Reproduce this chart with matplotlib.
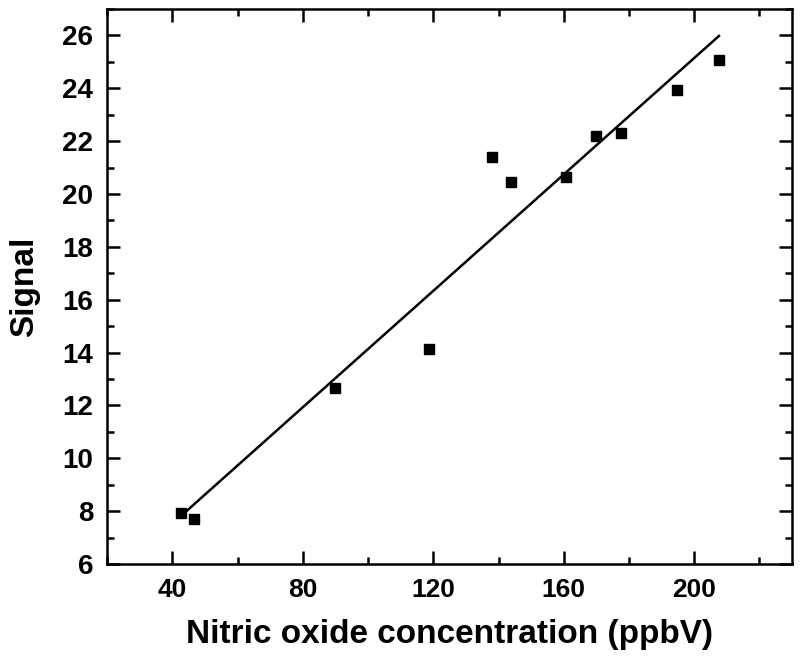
import numpy as np
import matplotlib.pyplot as plt
from matplotlib.ticker import MultipleLocator

# data
conc = [42.7, 46.7, 89.9, 118.7, 137.9, 143.7, 160.8, 169.8, 177.7, 194.7, 207.6]
signal = [7.91, 7.72, 12.67, 14.14, 21.40, 20.45, 20.65, 22.18, 22.29, 23.95, 25.07]

plt.rcParams['font.family'] = ['Liberation Sans', 'DejaVu Sans']
plt.rcParams['font.weight'] = 'bold'

fig = plt.figure(figsize=(8, 6.57), dpi=100)
ax = fig.add_axes([0.134, 0.1416, 0.856, 0.8447])

# linear fit over the data range
slope, icept = np.polyfit(conc, signal, 1)
xf = np.array([min(conc), max(conc)])
ax.plot(xf, slope * xf + icept, color='black', lw=1.8)

ax.plot(conc, signal, 's', color='black', markersize=7.5, ls='none')

ax.set_xlim(20, 230)
ax.set_ylim(6, 27)
ax.xaxis.set_major_locator(MultipleLocator(40))
ax.xaxis.set_minor_locator(MultipleLocator(20))
ax.yaxis.set_major_locator(MultipleLocator(2))
ax.yaxis.set_minor_locator(MultipleLocator(1))

ax.tick_params(which='both', direction='in', top=True, right=True, width=1.8)
ax.tick_params(which='major', length=9.5, pad=10)
ax.tick_params(which='minor', length=5)
ax.tick_params(axis='x', labelsize=19)
ax.tick_params(axis='y', labelsize=20)
for s in ax.spines.values():
    s.set_linewidth(1.8)

# drop the tick labels that sit outside the reference range
ax.set_xticks([40, 80, 120, 160, 200])
ax.set_yticks(range(6, 27, 2))

ax.set_xlabel('Nitric oxide concentration (ppbV)', fontsize=24, fontweight='bold', labelpad=12)
ax.set_ylabel('Signal', fontsize=24, fontweight='bold', labelpad=16)

plt.savefig('out.png', dpi=100)
